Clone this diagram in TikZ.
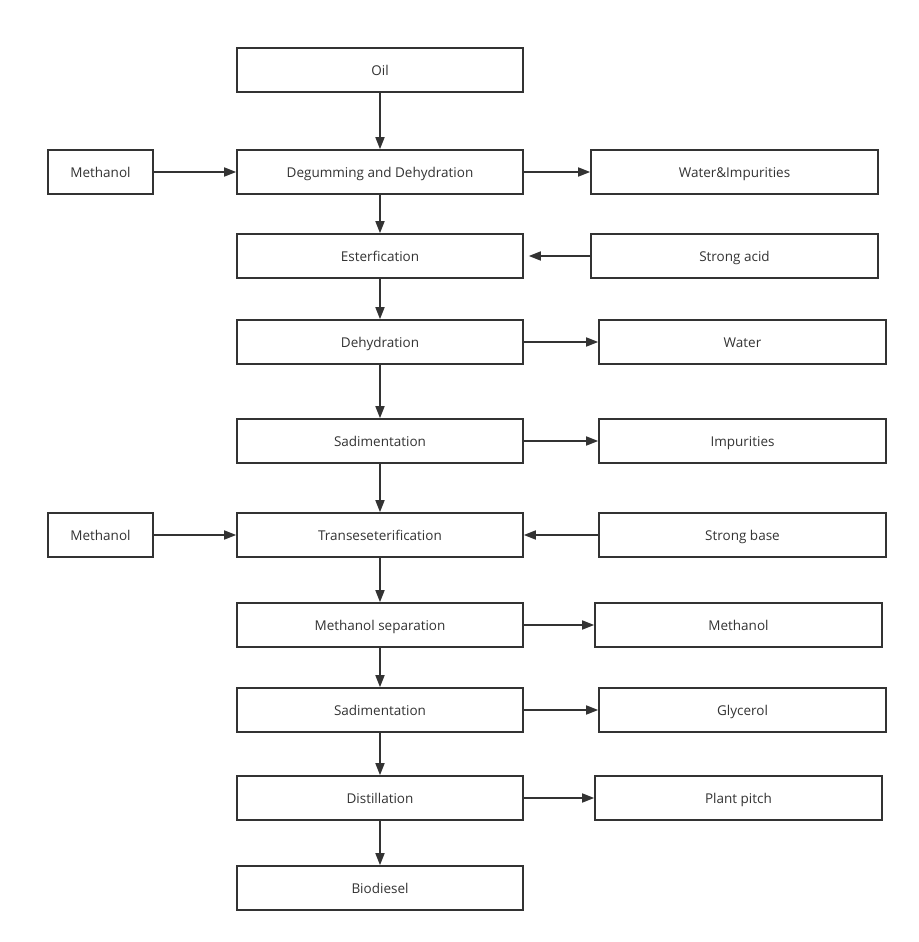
\documentclass[tikz,border=0pt]{standalone}
\usepackage{fontspec}
\setmainfont{Open Sans}
\usetikzlibrary{arrows.meta}
\definecolor{linegray}{HTML}{333333}
\begin{document}
\begin{tikzpicture}[x=1pt, y=-1pt, font=\fontsize{13.5}{16}\selectfont]
 % --- styles ---
 \tikzset{
    step box/.style={
        rectangle,
        draw=linegray,
        line width=1.6pt,
        text=linegray,
        minimum width=286pt,
        minimum height=44pt,
        text height=12pt,
        text depth=1.5pt,
        inner sep=0pt
    },
    feed/.style={
        step box,
        minimum width=105pt
    },
    product/.style={
        step box,
        minimum width=287pt
    },
    flow/.style={
        draw=linegray,
        line width=1.6pt,
        -{Triangle[length=12pt, width=9pt]}
    }
 }
 \useasboundingbox (0,0) rectangle (918,942);

 % --- main column ---
 \node[step box] (Oil) at (380,70) {Oil};
 \node[step box] (Degum) at (380,172) {Degumming and Dehydration};
 \node[step box] (Ester) at (380,256) {Esterfication};
 \node[step box] (Dehyd) at (380,342) {Dehydration};
 \node[step box] (SedA) at (380,441) {Sadimentation};
 \node[step box] (Trans) at (380,535) {Transeseterification};
 \node[step box] (MeSep) at (380,625) {Methanol separation};
 \node[step box] (SedB) at (380,710) {Sadimentation};
 \node[step box] (Dist) at (380,798) {Distillation};
 \node[step box] (Bio) at (380,888) {Biodiesel};

 % --- feeds on the left ---
 \node[feed] (MeInA) at (100.5,172) {Methanol};
 \node[feed] (MeInB) at (100.5,535) {Methanol};

 % --- side streams on the right ---
 \node[product] (WaterImp) at (734.5,172) {Water\&Impurities};
 \node[product] (Acid) at (734.5,256) {Strong acid};
 \node[product] (Water) at (742.5,342) {Water};
 \node[product] (Imp) at (742.5,441) {Impurities};
 \node[product] (Base) at (742.5,535) {Strong base};
 \node[product] (MeOut) at (738.5,625) {Methanol};
 \node[product] (Glyc) at (742.5,710) {Glycerol};
 \node[product] (Pitch) at (738.5,798) {Plant pitch};

 % --- main flow ---
 \draw[flow] (Oil) -- (Degum);
 \draw[flow] (Degum) -- (Ester);
 \draw[flow] (Ester) -- (Dehyd);
 \draw[flow] (Dehyd) -- (SedA);
 \draw[flow] (SedA) -- (Trans);
 \draw[flow] (Trans) -- (MeSep);
 \draw[flow] (MeSep) -- (SedB);
 \draw[flow] (SedB) -- (Dist);
 \draw[flow] (Dist) -- (Bio);

 % --- side flows ---
 \draw[flow] (MeInA) -- (Degum);
 \draw[flow] (MeInB) -- (Trans);
 \draw[flow] (Degum) -- (WaterImp);
 \draw[flow] (Acid) -- ([xshift=5pt]Ester.east);
 \draw[flow] (Dehyd) -- (Water);
 \draw[flow] (SedA) -- (Imp);
 \draw[flow] (Base) -- (Trans);
 \draw[flow] (MeSep) -- (MeOut);
 \draw[flow] (SedB) -- (Glyc);
 \draw[flow] (Dist) -- (Pitch);
\end{tikzpicture}
\end{document}
